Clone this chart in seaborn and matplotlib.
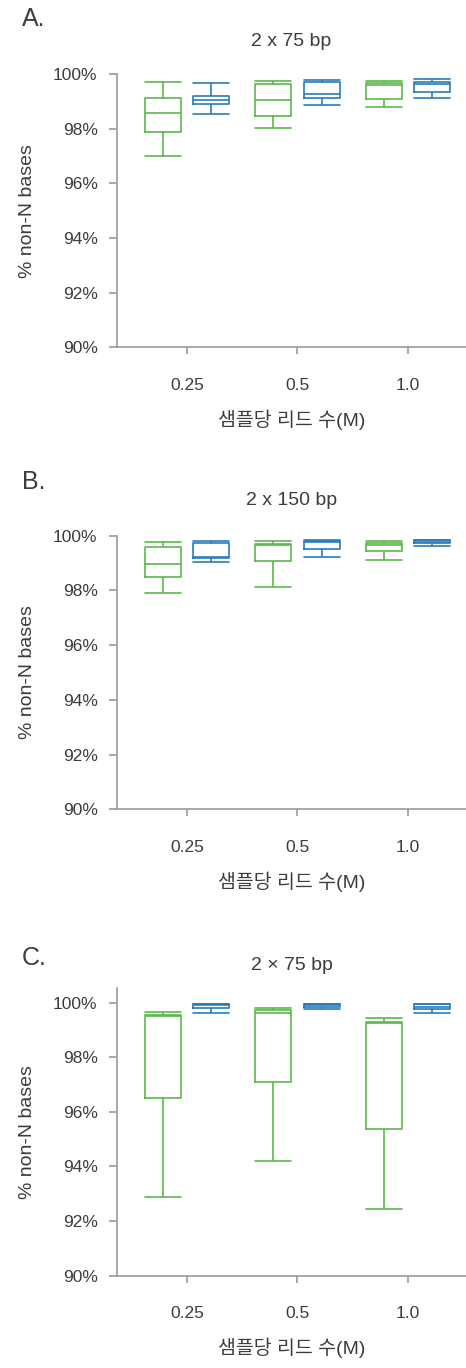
## Box plots: % non-N bases by reads per sample, three runs
import pandas as pd
import numpy as np
import seaborn as sns
import matplotlib.pyplot as plt
from matplotlib.ticker import FuncFormatter

## Data: five-number summaries (min, q1, median, q3, max)
reads = ["0.25", "0.5", "1.0"]
groups = ["green", "blue"]
titles = ["2 x 75 bp", "2 x 150 bp", "2 \u00d7 75 bp"]
letters = ["A.", "B.", "C."]

a_green = [[97.01, 97.87, 98.56, 99.13, 99.72],
           [98.04, 98.46, 99.04, 99.63, 99.76],
           [98.78, 99.07, 99.60, 99.66, 99.76]]
a_blue = [[98.52, 98.91, 99.06, 99.21, 99.68],
          [98.87, 99.11, 99.28, 99.70, 99.79],
          [99.12, 99.35, 99.64, 99.70, 99.80]]

b_green = [[97.89, 98.50, 98.97, 99.58, 99.76],
           [98.14, 99.09, 99.65, 99.70, 99.81],
           [99.12, 99.43, 99.67, 99.72, 99.82]]
b_blue = [[99.05, 99.17, 99.22, 99.74, 99.82],
          [99.23, 99.51, 99.78, 99.82, 99.85],
          [99.64, 99.72, 99.78, 99.83, 99.86]]

c_green = [[92.89, 96.50, 99.50, 99.55, 99.65],
           [94.21, 97.08, 99.63, 99.73, 99.82],
           [92.44, 95.37, 99.25, 99.29, 99.44]]
c_blue = [[99.63, 99.79, 99.90, 99.96, 99.97],
          [99.77, 99.85, 99.92, 99.96, 99.97],
          [99.63, 99.77, 99.85, 99.96, 99.97]]

panels = [(a_green, a_blue), (b_green, b_blue), (c_green, c_blue)]
ylims = [(90, 100), (90, 100), (90, 100.54)]

## Style
sns.set_style("ticks")
plt.rcParams['font.family'] = ['Liberation Sans', 'Noto Sans CJK KR']
text_col = "#3c3c3c"
spine_col = "#9a9a9a"
palette = {"green": "#5cb84c", "blue": "#2b7bba"}

fig = plt.figure(figsize=(4.66, 13.68), dpi=100)
rects = [[0.251, 0.7461, 0.749, 0.1998],
         [0.251, 0.4084, 0.749, 0.2000],
         [0.251, 0.0675, 0.749, 0.2103]]
title_pads = [20, 22, 13]
letter_y = [19, 482, 958]

width = 0.88
gap = 0.26
box_w = width / 2 * (1 - gap)

for i, (green, blue) in enumerate(panels):
    # build a long table; 5 points give exact quartiles with linear percentiles
    rows = []
    for grp, summ in zip(groups, [green, blue]):
        for r, vals in zip(reads, summ):
            for v in vals:
                rows.append({"reads": r, "group": grp, "value": v})
    df = pd.DataFrame(rows)

    ax = fig.add_axes(rects[i])
    sns.boxplot(data=df, x="reads", y="value", hue="group", order=reads,
                hue_order=groups, palette=palette, fill=False, width=width,
                gap=gap, whis=(0, 100), showfliers=False, linewidth=1.2,
                legend=False, ax=ax)

    # full-width caps like the original
    for ln in ax.lines:
        x = np.asarray(ln.get_xdata(), dtype=float)
        y = np.asarray(ln.get_ydata(), dtype=float)
        if len(x) == 2 and y[0] == y[1]:
            c = x.mean()
            ln.set_xdata([c - box_w / 2, c + box_w / 2])
    for p in ax.patches:
        p.set_joinstyle("round")

    ax.set_xlim(-0.633, 2.525)
    ax.set_ylim(*ylims[i])
    ax.set_yticks(np.arange(90, 101, 2))
    ax.yaxis.set_major_formatter(FuncFormatter(lambda v, pos: f"{v:.0f}%"))
    sns.despine(ax=ax)
    for s in ["left", "bottom"]:
        ax.spines[s].set_color(spine_col)
        ax.spines[s].set_linewidth(1.2)
    ax.tick_params(axis="y", colors=spine_col, labelcolor=text_col,
                   labelsize=12.5, length=6, width=1.2, pad=8)
    ax.tick_params(axis="x", colors=spine_col, labelcolor=text_col,
                   labelsize=12.5, length=5, width=1.2, pad=17)

    ax.set_xlabel("샘플당 리드 수(M)", fontsize=14, color=text_col, labelpad=12)
    ax.set_ylabel("% non-N bases", fontsize=14, color=text_col, labelpad=12)
    ax.set_title(titles[i], fontsize=14, color=text_col, pad=title_pads[i])

    fig.text(22 / 466, 1 - letter_y[i] / 1368, letters[i], fontsize=18,
             color=text_col, va="center", ha="left")

plt.savefig("out.png", dpi=100)
